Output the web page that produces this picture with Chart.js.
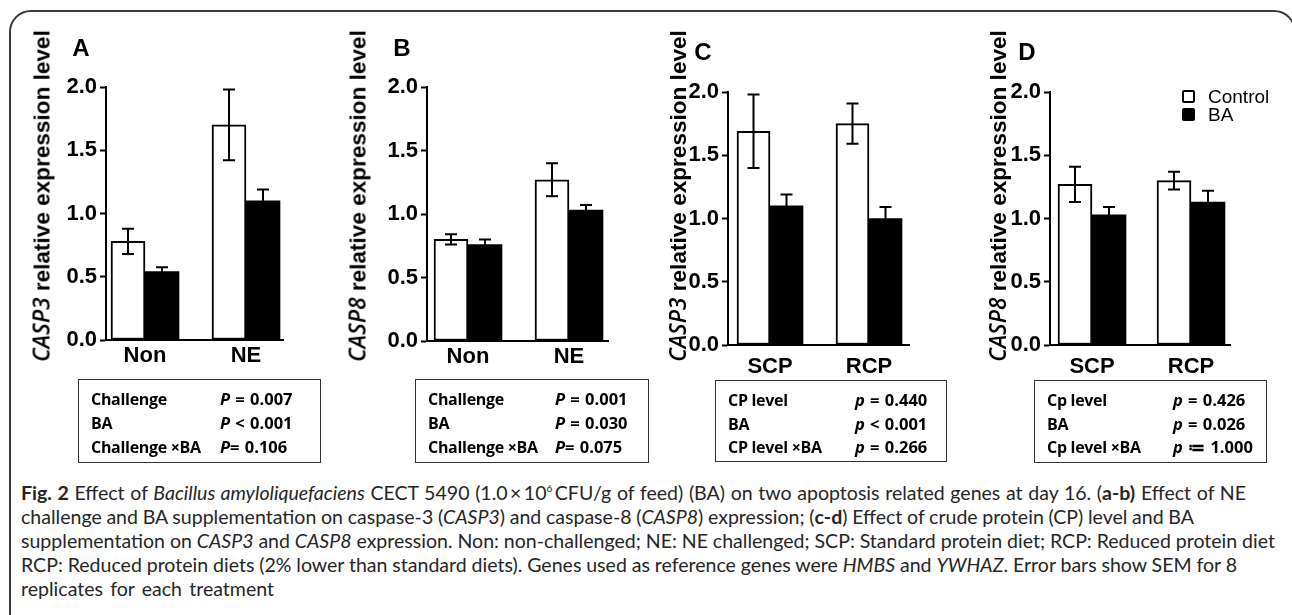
<!DOCTYPE html>
<html>
<head>
<meta charset="utf-8">
<script src="https://cdn.jsdelivr.net/npm/chart.js@4.4.0/dist/chart.umd.min.js"></script>
<style>
html, body { margin: 0; padding: 0; background: #fff; }
body { width: 1292px; height: 615px; position: relative; overflow: hidden; font-family: 'Liberation Sans', Arial, sans-serif; color: #000; }
#frame { position: absolute; left: 9px; top: 10px; width: 1287px; height: 700px; border: 2px solid #3a3a3a; border-radius: 22px 22px 0 0; box-sizing: border-box; }
canvas { position: absolute; top: 0; }
.ytitle { position: absolute; white-space: nowrap; font-weight: bold; font-size: 20px; line-height: 22px; transform: translate(-50%, -50%) rotate(-90deg); }
.ytitle i { font-family: 'Open Sans', sans-serif; font-weight: 600; }
.letter { position: absolute; font-weight: bold; font-size: 24px; line-height: 24px; transform: translate(-50%, -50%); }
.statbox { position: absolute; border: 1.5px solid #333; box-sizing: border-box; }
.row { position: absolute; font-family: 'Open Sans', sans-serif; font-weight: bold; font-size: 16px; letter-spacing: -0.3px; line-height: 20px; white-space: nowrap; }
.row.pv { font-size: 16.5px; letter-spacing: 0; word-spacing: 1px; }
.legend { position: absolute; font-size: 19px; line-height: 20px; white-space: nowrap; }
.legend span.sw { position: absolute; left: -26px; top: 3px; width: 13px; height: 13px; border: 2px solid #000; border-radius: 2px; box-sizing: border-box; }
#caption div { position: absolute; left: 21px; white-space: nowrap; font-family: 'Lato', sans-serif; font-size: 16px; line-height: 24px; color: #262626; }
</style>
</head>
<body>
<div id="frame"></div>
<div id="caption"></div>
<script>
'use strict';

// Séries et catégories
const seriesNames = ['Control', 'BA'];
const catsChallenge = ['Non', 'NE'];
const catsProtein = ['SCP', 'RCP'];
const yTicks = [0, 0.5, 1.0, 1.5, 2.0];

// A : CASP3, challenge NE
const casp3ChallengeControl = [0.78, 1.70];
const casp3ChallengeBA = [0.54, 1.10];
const casp3ChallengeControlSem = [0.10, 0.28];
const casp3ChallengeBASem = [0.035, 0.09];

// B : CASP8, challenge NE
const casp8ChallengeControl = [0.80, 1.27];
const casp8ChallengeBA = [0.76, 1.03];
const casp8ChallengeControlSem = [0.04, 0.13];
const casp8ChallengeBASem = [0.04, 0.04];

// C : CASP3, niveau de protéine
const casp3ProteinControl = [1.69, 1.75];
const casp3ProteinBA = [1.10, 1.00];
const casp3ProteinControlSem = [0.29, 0.16];
const casp3ProteinBASem = [0.09, 0.09];

// D : CASP8, niveau de protéine
const casp8ProteinControl = [1.27, 1.30];
const casp8ProteinBA = [1.03, 1.13];
const casp8ProteinControlSem = [0.14, 0.07];
const casp8ProteinBASem = [0.06, 0.09];

// Tableaux de P
const statsALabels = ['Challenge', 'BA', 'Challenge \u00d7BA'];
const statsAP = ['P = 0.007', 'P < 0.001', 'P= 0.106'];
const statsBLabels = ['Challenge', 'BA', 'Challenge \u00d7BA'];
const statsBP = ['P = 0.001', 'P = 0.030', 'P= 0.075'];
const statsCLabels = ['CP level', 'BA', 'CP level \u00d7BA'];
const statsCP = ['p = 0.440', 'p < 0.001', 'p = 0.266'];
const statsDLabels = ['Cp level', 'BA', 'Cp level \u00d7BA'];
const statsDP = ['p = 0.426', 'p = 0.026', 'p \u2254 1.000'];

const captionLines = [
    '<b>Fig. 2</b> Effect of <i>Bacillus amyloliquefaciens</i> CECT 5490 (1.0\u2009\u00d7\u200910<sup style="font-size:10px;line-height:0">6</sup>\u2009CFU/g of feed) (BA) on two apoptosis related genes at day 16. (<b>a-b)</b> Effect of NE',
    'challenge and BA supplementation on caspase-3 (<i>CASP3</i>) and caspase-8 (<i>CASP8</i>) expression; (<b>c-d</b>) Effect of crude protein (CP) level and BA',
    'supplementation on <i>CASP3</i> and <i>CASP8</i> expression. Non: non-challenged; NE: NE challenged; SCP: Standard protein diet; RCP: Reduced protein diet',
    'RCP: Reduced protein diets (2% lower than standard diets). Genes used as reference genes were <i>HMBS</i> and <i>YWHAZ</i>. Error bars show SEM for 8',
    'replicates for each treatment'
];

// Mise en page des quatre panneaux (pixels)
const panels = [
    { letter: 'A', gene: 'CASP3', cats: catsChallenge, ctrl: casp3ChallengeControl, ba: casp3ChallengeBA,
      ctrlSem: casp3ChallengeControlSem, baSem: casp3ChallengeBASem, labels: statsALabels, ps: statsAP,
      left: 0, width: 320, axisX: 106, top: 87, base: 340, right: 283, c0: 145, c1: 246, barW: 34, labelPad: 3,
      titleX: 42, letterX: 81, letterY: 48,
      box: { l: 78, r: 321, t: 379, b: 463, tx: 91, px: 220, rows: [399, 423, 447] } },
    { letter: 'B', gene: 'CASP8', cats: catsChallenge, ctrl: casp8ChallengeControl, ba: casp8ChallengeBA,
      ctrlSem: casp8ChallengeControlSem, baSem: casp8ChallengeBASem, labels: statsBLabels, ps: statsBP,
      left: 320, width: 320, axisX: 427, top: 87, base: 341, right: 608, c0: 468, c1: 569, barW: 34, labelPad: 3,
      titleX: 358, letterX: 402, letterY: 48,
      box: { l: 415, r: 649, t: 379, b: 463, tx: 428, px: 555, rows: [399, 423, 447] } },
    { letter: 'C', gene: 'CASP3', cats: catsProtein, ctrl: casp3ProteinControl, ba: casp3ProteinBA,
      ctrlSem: casp3ProteinControlSem, baSem: casp3ProteinBASem, labels: statsCLabels, ps: statsCP,
      left: 640, width: 320, axisX: 728, top: 92, base: 345, right: 909, c0: 770, c1: 869, barW: 33, labelPad: 9,
      titleX: 678, letterX: 703, letterY: 52,
      box: { l: 715, r: 947, t: 380, b: 462, tx: 728, px: 855, rows: [400, 424, 447] } },
    { letter: 'D', gene: 'CASP8', cats: catsProtein, ctrl: casp8ProteinControl, ba: casp8ProteinBA,
      ctrlSem: casp8ProteinControlSem, baSem: casp8ProteinBASem, labels: statsDLabels, ps: statsDP,
      left: 960, width: 332, axisX: 1050, top: 92, base: 345, right: 1230, c0: 1092, c1: 1191, barW: 34, labelPad: 9,
      titleX: 998, letterX: 1027, letterY: 52,
      box: { l: 1034, r: 1267, t: 380, b: 463, tx: 1047, px: 1173, rows: [400, 424, 447] } }
];
const canvasHeight = 400;
const titleLength = 332;

// Barres d'erreur (SEM) tracées via l'échelle y
const errorBars = {
    id: 'errorBars',
    afterDatasetsDraw(chart) {
        const ctx = chart.ctx;
        const y = chart.scales.y;
        chart.data.datasets.forEach((ds, i) => {
            chart.getDatasetMeta(i).data.forEach((bar, j) => {
                const v = ds.data[j].y, e = ds.sem[j];
                const yt = y.getPixelForValue(v + e), yb = y.getPixelForValue(v - e);
                ctx.save();
                ctx.strokeStyle = '#000';
                ctx.lineWidth = 2;
                ctx.beginPath();
                ctx.moveTo(bar.x, yt); ctx.lineTo(bar.x, yb);
                ctx.moveTo(bar.x - 6, yt); ctx.lineTo(bar.x + 6, yt);
                ctx.moveTo(bar.x - 6, yb); ctx.lineTo(bar.x + 6, yb);
                ctx.stroke();
                ctx.restore();
            });
        });
    }
};

function el(tag, cls, html, style) {
    const e = document.createElement(tag);
    if (cls) e.className = cls;
    if (html !== undefined) e.innerHTML = html;
    Object.assign(e.style, style || {});
    document.body.appendChild(e);
    return e;
}

panels.forEach(p => {
    const canvas = document.createElement('canvas');
    canvas.width = p.width;
    canvas.height = canvasHeight;
    canvas.style.left = p.left + 'px';
    document.body.appendChild(canvas);

    // Échelle x linéaire : chaque groupe centré sur 0 et 1
    const spacing = p.c1 - p.c0;
    const xMin = -(p.c0 - p.axisX) / spacing;
    const xMax = 1 + (p.right - p.c1) / spacing;
    const tickFont = { family: "'Liberation Sans', Arial, sans-serif", size: 22, weight: 'bold' };

    new Chart(canvas.getContext('2d'), {
        type: 'bar',
        data: {
            datasets: [
                { label: seriesNames[0], data: p.ctrl.map((v, i) => ({ x: i, y: v })), sem: p.ctrlSem,
                  backgroundColor: '#fff', borderColor: '#000', borderWidth: 2, borderSkipped: false, barThickness: p.barW },
                { label: seriesNames[1], data: p.ba.map((v, i) => ({ x: i, y: v })), sem: p.baSem,
                  backgroundColor: '#000', borderColor: '#000', borderWidth: 0, barThickness: p.barW }
            ]
        },
        options: {
            responsive: false,
            animation: false,
            devicePixelRatio: 1,
            layout: { padding: { top: p.top, left: 0, bottom: 0, right: p.width - (p.right - p.left) } },
            plugins: { legend: { display: false }, tooltip: { enabled: false } },
            scales: {
                x: {
                    type: 'linear',
                    offset: false,
                    bounds: 'data',
                    min: xMin,
                    max: xMax,
                    afterDataLimits: s => { s.min = xMin; s.max = xMax; },
                    afterBuildTicks: s => { s.ticks = p.cats.map((_, i) => ({ value: i })); s.min = xMin; s.max = xMax; },
                    afterFit: s => { s.height = canvasHeight - p.base; },
                    grid: { display: false, drawTicks: false, offset: false },
                    border: { display: true, color: '#000', width: 2 },
                    ticks: { autoSkip: false, maxRotation: 0, padding: p.labelPad, color: '#000', font: tickFont,
                             callback: v => p.cats[v] }
                },
                y: {
                    min: 0,
                    max: 2,
                    afterBuildTicks: s => { s.ticks = yTicks.map(v => ({ value: v })); },
                    afterFit: s => { s.width = p.axisX - p.left; },
                    grid: { drawOnChartArea: false, drawTicks: true, tickLength: 6, tickWidth: 2, color: '#000' },
                    border: { display: true, color: '#000', width: 2 },
                    ticks: { padding: 3, color: '#000', font: tickFont, callback: v => v.toFixed(1) }
                }
            }
        },
        plugins: [errorBars]
    });

    // Titre d'axe (ajusté à la longueur voulue), lettre du panneau
    const t = el('div', 'ytitle', '<i>' + p.gene + '</i> relative expression level', { left: p.titleX + 'px', top: '196px' });
    t.style.fontSize = (20 * titleLength / t.offsetWidth) + 'px';
    el('div', 'letter', p.letter, { left: p.letterX + 'px', top: p.letterY + 'px' });

    // Encadré des valeurs de P
    const b = p.box;
    el('div', 'statbox', '', { left: b.l + 'px', top: b.t + 'px', width: (b.r - b.l) + 'px', height: (b.b - b.t) + 'px' });
    p.labels.forEach((lab, i) => {
        el('div', 'row', lab, { left: b.tx + 'px', top: (b.rows[i] - 10) + 'px' });
        const pv = p.ps[i];
        el('div', 'row pv', '<i>' + pv.charAt(0) + '</i>' + pv.slice(1), { left: b.px + 'px', top: (b.rows[i] - 10) + 'px' });
    });
});

// Légende (panneau D)
const legendRows = [97, 115];
seriesNames.forEach((name, i) => {
    const lg = el('div', 'legend', '<span class="sw"></span>' + name, { left: '1208px', top: (legendRows[i] - 10) + 'px' });
    if (i === 1) lg.firstChild.style.background = '#000';
});

// Légende de la figure : taille commune, puis espacement ajusté ligne par ligne
const cap = document.getElementById('caption');
const lineCenters = [493, 517, 541, 565, 589];
const lineEnds = [1246, 1194, 1275, 1237, 274];
const lines = captionLines.map((txt, i) => {
    const d = document.createElement('div');
    d.innerHTML = txt;
    d.style.top = (lineCenters[i] - 12) + 'px';
    cap.appendChild(d);
    return d;
});
let ratio = 0;
lines.slice(0, 4).forEach((d, i) => { ratio += (lineEnds[i] - 21) / d.getBoundingClientRect().width; });
const fs = 16 * ratio / 4;
lines.forEach((d, i) => {
    d.style.fontSize = fs + 'px';
    const words = d.textContent.split(' ').length - 1;
    const diff = (lineEnds[i] - 21) - d.getBoundingClientRect().width;
    if (words > 0) d.style.wordSpacing = (diff / words) + 'px';
});
</script>
</body>
</html>
